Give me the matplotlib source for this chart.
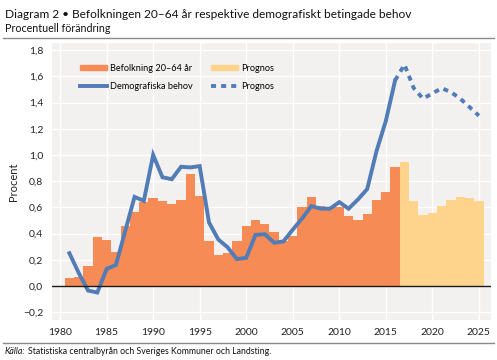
import matplotlib
matplotlib.use("Agg")
import matplotlib.pyplot as plt
from matplotlib.patches import Patch
from matplotlib.lines import Line2D

plt.rcParams['font.family'] = ['Lato', 'DejaVu Sans']

years_hist = list(range(1981, 2017))
bef_hist = [0.06, 0.07, 0.15, 0.375, 0.35, 0.26, 0.46, 0.565, 0.64, 0.67,
            0.645, 0.625, 0.655, 0.855, 0.69, 0.34, 0.24, 0.255, 0.345, 0.46,
            0.50, 0.475, 0.41, 0.34, 0.38, 0.60, 0.68, 0.61, 0.60, 0.60,
            0.535, 0.50, 0.55, 0.66, 0.72, 0.905]
years_prog = list(range(2017, 2026))
bef_prog = [0.95, 0.65, 0.54, 0.56, 0.61, 0.66, 0.68, 0.675, 0.65]

dem_hist = [0.25, 0.10, -0.035, -0.05, 0.13, 0.16, 0.42, 0.68, 0.65, 1.00,
            0.83, 0.815, 0.91, 0.905, 0.915, 0.485, 0.355, 0.295, 0.205, 0.215,
            0.39, 0.395, 0.33, 0.34, 0.43, 0.515, 0.61, 0.59, 0.59, 0.64,
            0.59, 0.66, 0.74, 1.03, 1.26, 1.57]
years_dem_prog = list(range(2016, 2026))
dem_prog = [1.57, 1.69, 1.51, 1.43, 1.47, 1.51, 1.48, 1.43, 1.365, 1.30]

xticks = [1980, 1985, 1990, 1995, 2000, 2005, 2010, 2015, 2020, 2025]
yticks = [-0.2, 0.0, 0.2, 0.4, 0.6, 0.8, 1.0, 1.2, 1.4, 1.6, 1.8]
ytick_labels = ['\u22120,2', '0,0', '0,2', '0,4', '0,6', '0,8', '1,0', '1,2', '1,4', '1,6', '1,8']

ORANGE = '#f68b55'
YELLOW = '#fed38c'
BLUE = '#527cb6'
BG = '#f2f1ef'

fig = plt.figure(figsize=(4.97, 3.6), dpi=100)
ax = fig.add_axes([51.7/497, 1-320/360, (491-51.7)/497, (320-43)/360])
ax.set_facecolor(BG)

ax.bar(years_hist, bef_hist, width=1.0, color=ORANGE, zorder=2, linewidth=0)
ax.bar(years_prog, bef_prog, width=1.0, color=YELLOW, zorder=2, linewidth=0)
ax.plot(years_hist, dem_hist, color=BLUE, lw=2.8, zorder=3, solid_joinstyle='miter')
ax.plot(years_dem_prog, dem_prog, color=BLUE, lw=2.8, zorder=3, ls=(0, (1.3, 1.3)))
ax.axhline(0, color='#1a1a1a', lw=1, zorder=4)

ax.set_xlim(1979.1, 2026.3)
ax.set_ylim(-0.26, 1.855)
ax.set_xticks(xticks)
ax.set_xticklabels([str(x) for x in xticks])
ax.set_yticks(yticks)
ax.set_yticklabels(ytick_labels)
ax.tick_params(length=0, labelsize=7.5, colors='#222222', pad=6)
ax.grid(True, color='white', lw=1, zorder=1)
ax.set_axisbelow(True)
for s in ax.spines.values():
    s.set_visible(False)
ax.set_ylabel('Procent', fontsize=8, color='#222222', labelpad=4)
ax.yaxis.set_label_coords(-0.075, 0.5)

handles = [Patch(color=ORANGE), Line2D([], [], color=BLUE, lw=2.8),
           Patch(color=YELLOW), Line2D([], [], color=BLUE, lw=2.8, ls=(0, (1.3, 1.3)))]
labels = ['Befolkning 20\u201364 \u00e5r', 'Demografiska behov', 'Prognos', 'Prognos']
leg = ax.legend(handles, labels, ncol=2, loc='upper left', bbox_to_anchor=(0.045, 0.955),
                frameon=False, fontsize=6.6, handlelength=3.0, handleheight=0.55,
                columnspacing=1.9, labelspacing=1.05, handletextpad=0.35)

fig.text(5/497, 1-14/360, 'Diagram 2 \u2022 Befolkningen 20\u201364 \u00e5r respektive demografiskt betingade behov',
         fontsize=8.6, va='center', ha='left', color='#111111')
fig.text(5/497, 1-28/360, 'Procentuell f\u00f6r\u00e4ndring', fontsize=7.7, va='center', ha='left', color='#111111')
fig.add_artist(Line2D([3/497, 494/497], [1-38/360, 1-38/360], color='#8a8a8a', lw=1))
fig.add_artist(Line2D([3/497, 494/497], [1-343/360, 1-343/360], color='#8a8a8a', lw=1))
t1 = fig.text(5/497, 1-352/360, 'K\u00e4lla:', fontsize=6.3, style='italic', va='center', ha='left', color='#111111')
fig.canvas.draw()
bb = t1.get_window_extent()
fig.text(bb.x1/497 + 2/497, 1-352/360, 'Statistiska centralbyr\u00e5n och Sveriges Kommuner och Landsting.',
         fontsize=6.3, va='center', ha='left', color='#111111')

fig.savefig('out.png', dpi=100)
